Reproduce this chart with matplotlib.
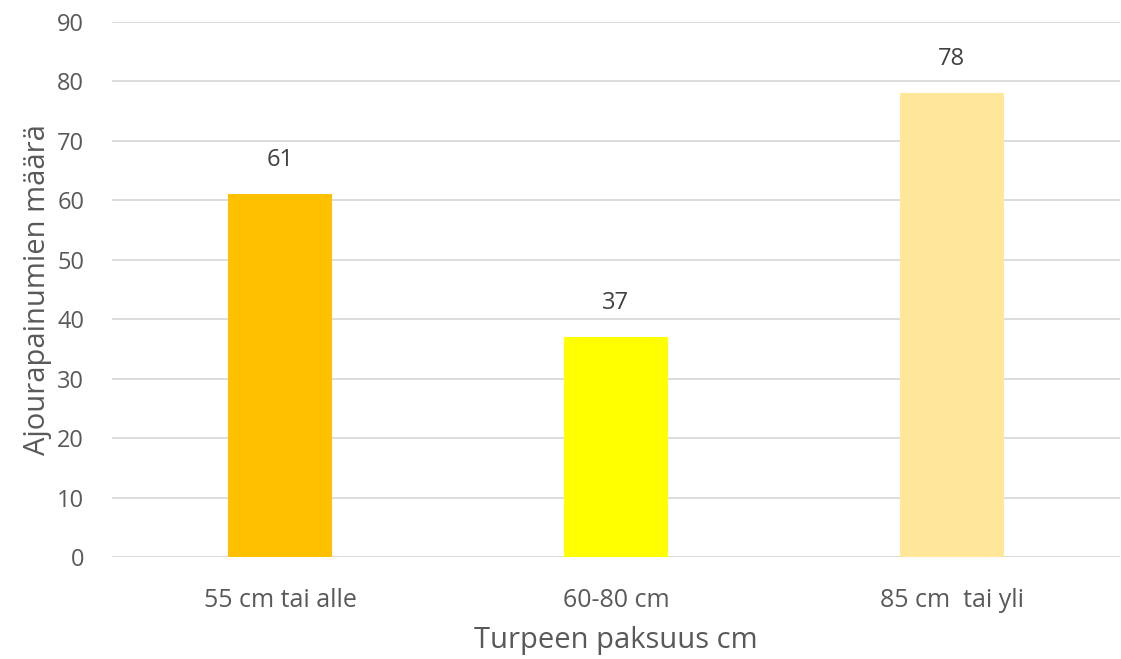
import matplotlib
matplotlib.use("Agg")
import matplotlib.pyplot as plt

categories = ["55 cm tai alle", "60-80 cm", "85 cm  tai yli"]
values = [61, 37, 78]
colors = ["#FFC000", "#FFFF00", "#FFE699"]
yticks = [0, 10, 20, 30, 40, 50, 60, 70, 80, 90]

fig = plt.figure(figsize=(11.21, 6.59), dpi=100)
ax = fig.add_axes([0.0999, 0.1548, 0.8991, 0.8118])
x = list(range(len(categories)))
ax.bar(x, values, width=0.31, color=colors, zorder=3)
for xi, v in zip(x, values):
    ax.annotate(str(v), (xi, v), xytext=(0, 16), textcoords="offset points",
                ha="center", va="bottom", fontsize=17, color="#404040",
                family="Open Sans")
ax.set_xlim(-0.5, 2.5)
ax.set_ylim(0, 90)
ax.set_yticks(yticks)
ax.set_yticklabels([str(t) for t in yticks], fontsize=17, color="#595959", family="Open Sans")
ax.set_xticks(x)
ax.set_xticklabels(categories, fontsize=18, color="#595959", family="Open Sans")
ax.tick_params(axis="both", length=0)
ax.tick_params(axis="x", pad=22)
ax.tick_params(axis="y", pad=20)
ax.grid(axis="y", color="#D9D9D9", linewidth=1.3, zorder=0)
for s in ["top", "right", "left", "bottom"]:
    ax.spines[s].set_visible(False)
ax.set_xlabel("Turpeen paksuus cm", fontsize=21, color="#595959", family="Open Sans", labelpad=10)
ax.set_ylabel("Ajourapainumien määrä", fontsize=21, color="#595959", family="Open Sans", labelpad=4)
fig.savefig("out.png", dpi=100)
